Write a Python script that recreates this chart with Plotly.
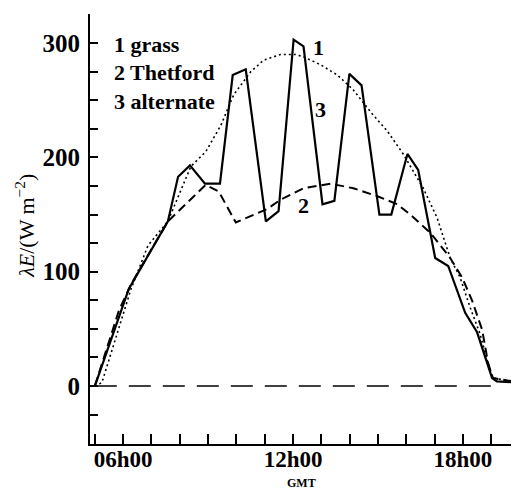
import plotly.graph_objects as go

# --- data (hours GMT, latent heat flux W m^-2) ---
grass_h = [5.0, 6.2, 7.58, 7.94, 8.36, 8.89, 9.42, 9.87, 10.33, 11.04, 11.49, 12.02, 12.37,
           13.04, 13.46, 13.99, 14.42, 15.05, 15.47, 16.04, 16.42, 17.02, 17.48, 18.08,
           18.5, 19.03, 19.2, 20.0]
grass_v = [0, 85, 144, 183, 193, 177, 177, 272, 277, 144, 153, 303, 297,
           159, 162, 273, 263, 150, 150, 203, 189, 112, 105, 64,
           47, 7, 4, 3]

thetford_h = [5.0, 5.85, 6.3, 7.58, 8.92, 9.38, 9.98, 11.1, 11.56, 12.37, 13.32, 14.13,
              14.98, 15.68, 16.14, 16.85, 17.55, 17.97, 18.32, 18.68, 18.89, 19.06, 20.0]
thetford_v = [0, 66, 90, 144, 176, 170, 143, 155, 163, 173, 177, 173,
              166, 159, 150, 134, 112, 95, 75, 49, 20, 7, 3]

alternate_h = [5.0, 5.25, 6.28, 6.88, 7.58, 8.39, 8.92, 9.45, 9.91, 10.51, 10.96, 11.56,
               12.09, 12.37, 12.97, 13.57, 14.13, 14.73, 15.33, 15.89, 16.6, 17.09,
               17.55, 17.9, 18.25, 18.6, 18.85, 19.06, 20.0]
alternate_v = [0, 3, 85, 123, 144, 192, 205, 228, 255, 275, 285, 290,
               290, 288, 281, 272, 259, 240, 223, 203, 173, 147,
               112, 95, 69, 46, 23, 7, 3]

zero_h = [5.0, 19.0]
zero_v = [0, 0]

x_tickvals = [6, 12, 18]
x_ticktext = ["06h00", "12h00", "18h00"]
y_tickvals = [0, 100, 200, 300]
y_ticktext = ["0", "100", "200", "300"]

legend_lines = ["1 grass", "2 Thetford", "3 alternate"]
legend_y = [299, 274, 249]

FONT = "Liberation Serif"

fig = go.Figure()
fig.add_trace(go.Scatter(x=zero_h, y=zero_v, mode="lines",
                         line=dict(color="black", width=1.5, dash="22px,12px")))
fig.add_trace(go.Scatter(x=alternate_h, y=alternate_v, mode="lines",
                         line=dict(color="black", width=1.6, dash="2px,3px")))
fig.add_trace(go.Scatter(x=thetford_h, y=thetford_v, mode="lines",
                         line=dict(color="black", width=2, dash="9px,5px")))
fig.add_trace(go.Scatter(x=grass_h, y=grass_v, mode="lines",
                         line=dict(color="black", width=2.2)))

for txt, yv in zip(legend_lines, legend_y):
    fig.add_annotation(x=5.6, y=yv, text="<b>" + txt + "</b>", showarrow=False,
                       xanchor="left", yanchor="middle",
                       font=dict(family=FONT, size=22, color="black"))

for txt, xv, yv in [("1", 12.9, 296), ("3", 12.97, 242), ("2", 12.37, 158)]:
    fig.add_annotation(x=xv, y=yv, text="<b>" + txt + "</b>", showarrow=False,
                       font=dict(family=FONT, size=22, color="black"))

fig.add_annotation(xref="paper", yref="paper", x=-0.152, y=0.507,
                   xanchor="center", yanchor="middle",
                   text="<i>λE</i>/(W m<sup>−2</sup>)", textangle=-90, showarrow=False,
                   font=dict(family=FONT, size=22, color="black"))
fig.add_annotation(xref="paper", yref="paper", x=0.494, y=-0.09,
                   xanchor="center", yanchor="middle",
                   text="<b>GMT</b>", showarrow=False,
                   font=dict(family=FONT, size=12, color="black"))

# page has an 8px body margin: figure is sized/offset to place the plot area at
# x 90..519, y 14..444 in the 519x490 window
fig.update_layout(
    width=511, height=482,
    margin=dict(l=82, r=0, t=6, b=46, autoexpand=False),
    paper_bgcolor="white", plot_bgcolor="white",
    showlegend=False,
    font=dict(family=FONT, color="black"),
    xaxis=dict(range=[4.83, 19.98], showgrid=False, zeroline=False, showline=True,
               linecolor="black", linewidth=2, ticks="inside", ticklen=10, tickwidth=1.5,
               tickcolor="black", tickvals=x_tickvals, ticktext=x_ticktext,
               minor=dict(ticks="inside", ticklen=10, tickwidth=1.5, tickcolor="black",
                          tick0=0, dtick=1, showgrid=False),
               tickfont=dict(family=FONT, size=23, color="black", weight="bold"),
               ticklabelstandoff=-7),
    yaxis=dict(range=[-50.7, 325.4], showgrid=False, zeroline=False, showline=True,
               linecolor="black", linewidth=2, ticks="inside", ticklen=8, tickwidth=1.5,
               tickcolor="black", tickvals=y_tickvals, ticktext=y_ticktext,
               minor=dict(ticks="inside", ticklen=8, tickwidth=1.5, tickcolor="black",
                          tick0=0, dtick=25, showgrid=False),
               tickfont=dict(family=FONT, size=25, color="black", weight="bold"),
               ticklabelstandoff=3),
)

fig.write_html("out.html")
